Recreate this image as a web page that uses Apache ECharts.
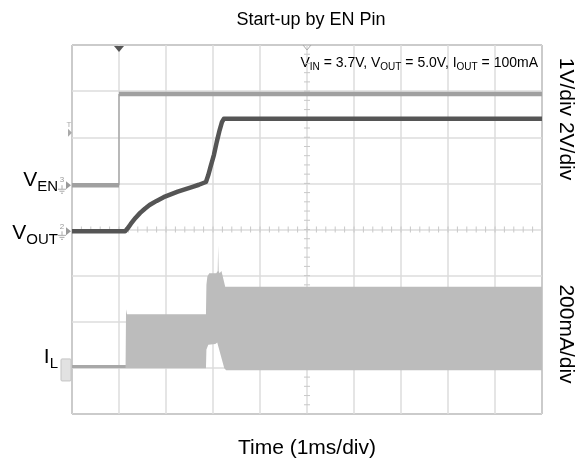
<!DOCTYPE html>
<html>
<head>
<meta charset="UTF-8">
<title>Start-up by EN Pin</title>
<script src="https://cdn.jsdelivr.net/npm/echarts@6/dist/echarts.min.js"></script>
<style>
  body { margin: 0; background: #fff; }
  #root { width: 587px; height: 464px; }
</style>
</head>
<body>
<div id="root"></div>
<script>
// scope screen: 10 x 8 divisions, values are in divisions
var venLow = [[0, 4.96], [1.0, 4.96]];
var venHigh = [[1.0, 6.94], [10, 6.94]];

var voutTime  = [0, 1.13, 1.18, 1.25, 1.35, 1.45, 1.55, 1.65, 1.80, 1.95, 2.10, 2.25, 2.40, 2.55, 2.70, 2.85,
                 2.90, 2.95, 3.02, 3.08, 3.14, 3.19, 3.23, 10];
var voutLevel = [3.96, 3.96, 4.02, 4.12, 4.25, 4.36, 4.45, 4.53, 4.62, 4.70, 4.76, 4.82, 4.87, 4.92, 4.97, 5.03,
                 5.18, 5.37, 5.62, 5.90, 6.15, 6.33, 6.40, 6.40];

// inductor current envelope (switching ripple band)
var ilTopTime = [0, 1.14, 1.15, 1.17, 2.85, 2.86, 2.88, 2.92, 3.07, 3.10, 3.11, 3.12, 3.14, 3.18, 3.26, 10];
var ilTop     = [1.06, 1.06, 2.27, 2.16, 2.16, 2.80, 2.98, 3.05, 3.05, 3.10, 3.66, 3.10, 3.05, 3.10, 2.76, 2.76];
var ilBotTime = [0, 2.85, 2.86, 2.90, 3.05, 3.09, 3.24, 3.28, 10];
var ilBot     = [0.99, 0.99, 1.40, 1.50, 1.52, 1.55, 0.99, 0.95, 0.95];
var ilBase    = [[0, 1.03], [1.14, 1.03]];

var levels = { ven: 4.96, vout: 3.96, il: 1.02, trig: 6.1 };

var font = "'Liberation Sans', Arial, sans-serif";
var chart = echarts.init(document.getElementById('root'));

function zip(t, v) {
    return t.map(function (x, i) { return [x, v[i]]; });
}

chart.setOption({
    animation: false,
    title: {
        text: 'Start-up by EN Pin',
        left: 306,
        top: 6,
        textAlign: 'center',
        textStyle: { fontFamily: font, fontSize: 18, fontWeight: 'normal', color: '#000' }
    },
    grid: {
        left: 72, right: 45, top: 45, bottom: 50,
        outerBoundsMode: 'none',
        show: true, borderColor: '#333', borderWidth: 1
    },
    xAxis: {
        type: 'value', min: 0, max: 10, interval: 1,
        axisLine: { show: false }, axisTick: { show: false }, axisLabel: { show: false },
        splitLine: { lineStyle: { color: '#dcdcdc', width: 1.5 } },
        name: 'Time (1ms/div)', nameLocation: 'middle', nameGap: 24,
        nameTextStyle: { fontFamily: font, fontSize: 21, color: '#000' }
    },
    yAxis: {
        type: 'value', min: 0, max: 8, interval: 1,
        axisLine: { show: false }, axisTick: { show: false }, axisLabel: { show: false },
        splitLine: { lineStyle: { color: '#dcdcdc', width: 1.5 } }
    },
    series: [
        {
            // minor ticks on the centre graticule
            type: 'custom',
            silent: true,
            data: [[5, 4]],
            renderItem: function (params, api) {
                var kids = [];
                for (var i = 0; i <= 50; i++) {
                    var p = api.coord([i * 0.2, 4]);
                    kids.push({ type: 'line', shape: { x1: p[0], y1: p[1] - 3, x2: p[0], y2: p[1] + 3 },
                        style: { stroke: '#c8c8c8', lineWidth: 1 } });
                }
                for (var j = 0; j <= 40; j++) {
                    var q = api.coord([5, j * 0.2]);
                    kids.push({ type: 'line', shape: { x1: q[0] - 3, y1: q[1], x2: q[0] + 3, y2: q[1] },
                        style: { stroke: '#c8c8c8', lineWidth: 1 } });
                }
                return { type: 'group', children: kids };
            }
        },
        {
            name: 'IL',
            type: 'custom',
            silent: true,
            data: [[0, 0]],
            renderItem: function (params, api) {
                var pts = [];
                for (var i = 0; i < ilTopTime.length; i++) pts.push(api.coord([ilTopTime[i], ilTop[i]]));
                for (var k = ilBotTime.length - 1; k >= 0; k--) pts.push(api.coord([ilBotTime[k], ilBot[k]]));
                return { type: 'polygon', shape: { points: pts }, style: { fill: '#bcbcbc' } };
            }
        },
        {
            name: 'IL baseline',
            type: 'line',
            showSymbol: false,
            data: ilBase,
            lineStyle: { color: '#a8a8a8', width: 3 }
        },
        {
            name: 'VEN',
            type: 'line',
            showSymbol: false,
            data: venLow.concat([null], venHigh),
            lineStyle: { color: '#a0a0a0', width: 4.5 }
        },
        {
            name: 'VEN edge',
            type: 'line',
            showSymbol: false,
            data: [venLow[1], venHigh[0]],
            lineStyle: { color: '#9a9a9a', width: 1.2 }
        },
        {
            name: 'VOUT',
            type: 'line',
            showSymbol: false,
            data: zip(voutTime, voutLevel),
            lineStyle: { color: '#555', width: 4.5, join: 'round' }
        }
    ]
});

function px(x, y) { return chart.convertToPixel({ gridIndex: 0 }, [x, y]); }

function chMarker(num, level) {
    var p = px(0, level);
    var x = p[0], y = p[1];
    return [
        { type: 'polygon', shape: { points: [[x - 6, y - 4], [x - 1, y], [x - 6, y + 4]] }, style: { fill: '#999' } },
        { type: 'text', x: x - 10, y: y - 1, style: { text: num, fontSize: 8, fontFamily: font, fill: '#999', align: 'center', verticalAlign: 'bottom' } },
        { type: 'line', shape: { x1: x - 10, y1: y, x2: x - 10, y2: y + 4 }, style: { stroke: '#aaa', lineWidth: 1 } },
        { type: 'line', shape: { x1: x - 14, y1: y + 4, x2: x - 6, y2: y + 4 }, style: { stroke: '#aaa', lineWidth: 1 } },
        { type: 'line', shape: { x1: x - 12.5, y1: y + 6, x2: x - 7.5, y2: y + 6 }, style: { stroke: '#aaa', lineWidth: 1 } },
        { type: 'line', shape: { x1: x - 11, y1: y + 8, x2: x - 9, y2: y + 8 }, style: { stroke: '#aaa', lineWidth: 1 } }
    ];
}

var rich = {
    n: { fontFamily: font, fontSize: 21, color: '#000' },
    s: { fontFamily: font, fontSize: 15, color: '#000', padding: [14, 0, 0, 0] }
};
var richSmall = {
    n: { fontFamily: font, fontSize: 14, color: '#000' },
    s: { fontFamily: font, fontSize: 10, color: '#000', padding: [8, 0, 0, 0] }
};

var trigX = px(1.0, 8), midTop = px(5, 8), trigLv = px(0, levels.trig);
var pVen = px(0, levels.ven), pVout = px(0, levels.vout), pIl = px(0, levels.il);

var g = [
    { type: 'polygon', shape: { points: [[trigX[0] - 5, trigX[1] + 1], [trigX[0] + 5, trigX[1] + 1], [trigX[0], trigX[1] + 7]] }, style: { fill: '#555' } },
    { type: 'polyline', shape: { points: [[midTop[0] - 4, midTop[1]], [midTop[0], midTop[1] + 5], [midTop[0] + 4, midTop[1]]] }, style: { stroke: '#aaa', lineWidth: 1, fill: null } },
    { type: 'text', x: trigLv[0] - 3, y: trigLv[1] - 4, style: { text: 'T', fontSize: 8, fontFamily: font, fill: '#aaa', align: 'center', verticalAlign: 'bottom' } },
    { type: 'polygon', shape: { points: [[trigLv[0] - 4, trigLv[1] - 4], [trigLv[0], trigLv[1]], [trigLv[0] - 4, trigLv[1] + 4]] }, style: { fill: '#aaa' } },
    { type: 'rect', shape: { x: pIl[0] - 11, y: pIl[1] - 8, width: 10, height: 22, r: 1 }, style: { fill: '#e2e2e2', stroke: '#c4c4c4', lineWidth: 1 } },
    { type: 'text', x: 58, y: pVen[1] - 5, style: { text: '{n|V}{s|EN}', rich: rich, align: 'right', verticalAlign: 'middle' } },
    { type: 'text', x: 58, y: pVout[1] + 2, style: { text: '{n|V}{s|OUT}', rich: rich, align: 'right', verticalAlign: 'middle' } },
    { type: 'text', x: 58, y: pIl[1] - 10, style: { text: '{n|I}{s|L}', rich: rich, align: 'right', verticalAlign: 'middle' } },
    { type: 'text', x: 538, y: 63, style: { text: '{n|V}{s|IN}{n| = 3.7V, V}{s|OUT}{n| = 5.0V, I}{s|OUT}{n| = 100mA}', rich: richSmall, align: 'right', verticalAlign: 'middle' } },
    { type: 'text', x: 566, y: 119, rotation: -Math.PI / 2, style: { text: '1V/div 2V/div', fontFamily: font, fontSize: 21, fill: '#000', align: 'center', verticalAlign: 'middle' } },
    { type: 'text', x: 566, y: 334, rotation: -Math.PI / 2, style: { text: '200mA/div', fontFamily: font, fontSize: 21, fill: '#000', align: 'center', verticalAlign: 'middle' } }
];
g = g.concat(chMarker('3', levels.ven), chMarker('2', levels.vout));

chart.setOption({ graphic: g });
</script>
</body>
</html>
